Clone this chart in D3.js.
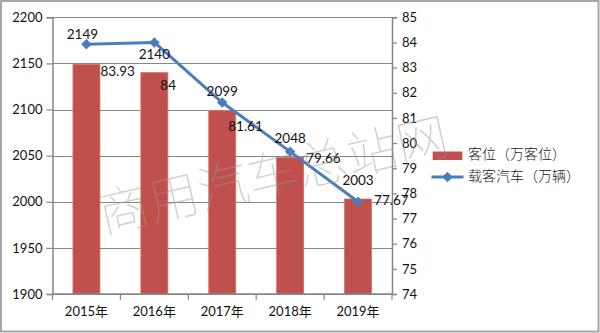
<!DOCTYPE html>
<html>
<head>
<meta charset="utf-8">
<script src="https://cdn.jsdelivr.net/npm/d3@7"></script>
<style>
  html, body { margin: 0; padding: 0; background: #fff; }
  svg { display: block; }
</style>
</head>
<body>
<svg id="chart" width="600" height="333"></svg>
<script>
// Categories and series
const years = ["2015年", "2016年", "2017年", "2018年", "2019年"];
const seats = [2149, 2140, 2099, 2048, 2003];          // 客位（万客位）
const buses = [83.93, 84, 81.61, 79.66, 77.67];        // 载客汽车（万辆）
const leftTicks = [1900, 1950, 2000, 2050, 2100, 2150, 2200];
const rightTicks = [74, 75, 76, 77, 78, 79, 80, 81, 82, 83, 84, 85];
const seriesNames = ["客位（万客位）", "载客汽车（万辆）"];
const watermark = "商用汽车总站网";

// Hand-placed label offsets relative to each line point [dx, dy]
const seatLabelOffset = [[-4, -9], [0, 13], [0, -10], [0, -12], [0, -20]];
const busLabelOffset = [[14, 28], [6, 44], [6, 25], [16, 8], [16, 0]];

const svg = d3.select("#chart");
const font = "Lato, 'Noto Sans CJK SC', sans-serif";
const gridColor = "#868686";

const plot = { left: 52.5, right: 392, top: 17.3, bottom: 294 };

const x = d3.scaleBand().domain(years).range([plot.left, plot.right]).paddingInner(0.6).paddingOuter(0.3);
const xOuter = d3.scaleBand().domain(years).range([plot.left, plot.right]);
const yL = d3.scaleLinear().domain([1900, 2200]).range([plot.bottom, plot.top]);
const yR = d3.scaleLinear().domain([74, 85]).range([plot.bottom, plot.top]);
const cx = d => xOuter(d) + xOuter.bandwidth() / 2;

// Outer frame
svg.append("rect").attr("x", 1).attr("y", 1).attr("width", 597.5).attr("height", 330.5)
  .attr("fill", "#fff").attr("stroke", "#a6a6a6").attr("stroke-width", 2);

// Horizontal gridlines
svg.append("g").selectAll("line").data(leftTicks).join("line")
  .attr("x1", plot.left).attr("x2", plot.right)
  .attr("y1", d => Math.round(yL(d)) + 0.5).attr("y2", d => Math.round(yL(d)) + 0.5)
  .attr("stroke", gridColor).attr("stroke-width", 1);

// Bars
const barW = 27;
svg.append("g").selectAll("rect").data(seats).join("rect")
  .attr("x", (d, i) => cx(years[i]) - barW / 2)
  .attr("y", d => yL(d))
  .attr("width", barW)
  .attr("height", d => plot.bottom - yL(d))
  .attr("fill", "#C0504D")
  .attr("stroke", "#d9706d").attr("stroke-width", 0.8);

// Left axis
const axL = d3.axisLeft(yL).tickValues(leftTicks).tickSize(6).tickPadding(4).tickFormat(d3.format("d"));
const gL = svg.append("g").attr("transform", `translate(${plot.left},0)`).call(axL);
gL.select(".domain").attr("stroke", gridColor).attr("stroke-width", 1.5);
gL.selectAll(".tick line").attr("stroke", gridColor).attr("stroke-width", 1.2);
gL.selectAll(".tick text").attr("font-family", font).attr("font-size", 13).attr("fill", "#111");

// Right axis
const axR = d3.axisRight(yR).tickValues(rightTicks).tickSize(5).tickPadding(5);
const gR = svg.append("g").attr("transform", `translate(${plot.right},0)`).call(axR);
gR.select(".domain").attr("stroke", gridColor).attr("stroke-width", 1.5);
gR.selectAll(".tick line").attr("stroke", gridColor).attr("stroke-width", 1.2);
gR.selectAll(".tick text").attr("font-family", font).attr("font-size", 13).attr("fill", "#111");

// Bottom axis: ticks at category boundaries
const gB = svg.append("g");
gB.append("line").attr("x1", plot.left).attr("x2", plot.right)
  .attr("y1", plot.bottom).attr("y2", plot.bottom)
  .attr("stroke", gridColor).attr("stroke-width", 1.5);
const bounds = years.map(d => xOuter(d)).concat([plot.right]);
gB.selectAll("line.tk").data(bounds).join("line").attr("class", "tk")
  .attr("x1", d => d).attr("x2", d => d)
  .attr("y1", plot.bottom).attr("y2", plot.bottom + 6)
  .attr("stroke", gridColor).attr("stroke-width", 1.2);
gB.selectAll("text").data(years).join("text")
  .attr("x", d => cx(d)).attr("y", 313)
  .attr("text-anchor", "middle").attr("dominant-baseline", "middle")
  .attr("font-family", font).attr("font-size", 13).attr("fill", "#111")
  .text(d => d);

// Line series
const line = d3.line().x((d, i) => cx(years[i])).y(d => yR(d));
svg.append("path").datum(buses)
  .attr("d", line).attr("fill", "none")
  .attr("stroke", "#4A7EBB").attr("stroke-width", 3).attr("stroke-linejoin", "round");
const diamond = d3.symbol().type(d3.symbolDiamond2).size(70);
svg.append("g").selectAll("path").data(buses).join("path")
  .attr("d", diamond)
  .attr("transform", (d, i) => `translate(${cx(years[i])},${yR(d)}) rotate(0)`)
  .attr("fill", "#4A7EBB");

// Data labels
svg.append("g").selectAll("text").data(seats).join("text")
  .attr("x", (d, i) => cx(years[i]) + seatLabelOffset[i][0])
  .attr("y", (d, i) => yR(buses[i]) + seatLabelOffset[i][1])
  .attr("text-anchor", "middle").attr("dominant-baseline", "middle")
  .attr("font-family", font).attr("font-size", 13.5).attr("fill", "#111")
  .text(d => d);
svg.append("g").selectAll("text").data(buses).join("text")
  .attr("x", (d, i) => cx(years[i]) + busLabelOffset[i][0])
  .attr("y", (d, i) => yR(d) + busLabelOffset[i][1])
  .attr("text-anchor", "start").attr("dominant-baseline", "middle")
  .attr("font-family", font).attr("font-size", 13.5).attr("fill", "#111")
  .text(d => d);

// Legend
const lg = svg.append("g");
lg.append("rect").attr("x", 432.7).attr("y", 151.5).attr("width", 29.6).attr("height", 8.5).attr("fill", "#C0504D");
lg.append("line").attr("x1", 431.5).attr("x2", 463.5).attr("y1", 177).attr("y2", 177)
  .attr("stroke", "#4A7EBB").attr("stroke-width", 3);
lg.append("path").attr("d", diamond).attr("transform", "translate(447.5,177)").attr("fill", "#4A7EBB");
lg.selectAll("text").data(seriesNames).join("text")
  .attr("x", 468).attr("y", (d, i) => 155.7 + i * 21.5)
  .attr("dominant-baseline", "middle")
  .attr("font-family", "'Noto Sans CJK SC', sans-serif").attr("font-size", 14).attr("font-weight", 300)
  .attr("fill", "#222")
  .text(d => d);

// Watermark
svg.append("text")
  .attr("x", 103).attr("y", 233)
  .attr("transform", "rotate(-13,103,233)")
  .attr("font-family", "'Noto Sans CJK SC', sans-serif").attr("font-size", 51).attr("font-weight", 100)
  .attr("fill", "#9a9a9a").attr("fill-opacity", 0.45)
  .text(watermark);
</script>
</body>
</html>
